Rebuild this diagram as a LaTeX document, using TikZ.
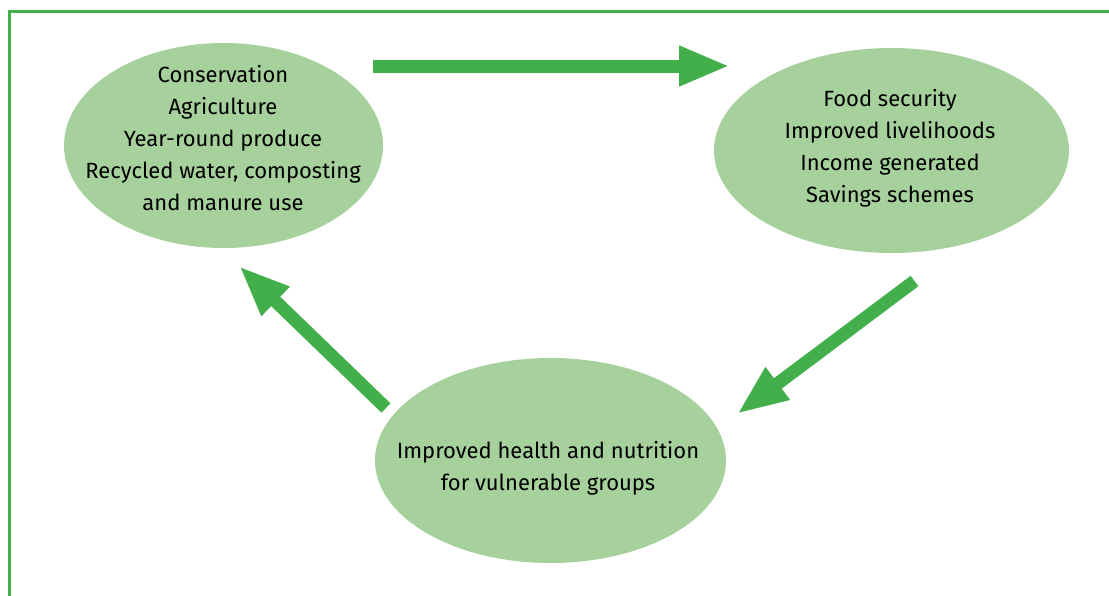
\documentclass[tikz,border=0pt]{standalone}
\usepackage{fontspec}
\setmainfont{Fira Sans}
\usetikzlibrary{shapes.geometric,arrows.meta}
\definecolor{leafgreen}{RGB}{67,175,74}
\definecolor{palegreen}{RGB}{166,208,156}

\begin{document}
\begin{tikzpicture}[
    x=1pt, y=-1pt,
    bubble/.style={ellipse, fill=palegreen, inner sep=0pt},
    bubbletext/.style={align=center, font=\fontsize{22}{32}\selectfont},
    flow/.style={leafgreen, line width=13pt, -{Triangle[length=51pt,width=37pt]}}
]
    \useasboundingbox (0,0) rectangle (1109,595);
    \clip (0,0) rectangle (1109,595);

    % Cadre
    \draw[leafgreen, line width=3pt] (9.5,11.5) rectangle (1130,620);

    % Ellipses
    \node[bubble, minimum width=319pt, minimum height=205pt] (conserv) at (223.5,145.5) {};
    \node[bubble, minimum width=355pt, minimum height=205pt] (food) at (891.5,150.5) {};
    \node[bubble, minimum width=351pt, minimum height=205pt] (health) at (550.5,460.5) {};

    % Textes
    \node[bubbletext] (conservtext) at (223,138) {Conservation\\Agriculture\\Year-round produce\\Recycled water, composting\\and manure use};
    \node[bubbletext] (foodtext) at (890,148) {Food security\\Improved livelihoods\\Income generated\\Savings schemes};
    \node[bubbletext] (healthtext) at (548,468) {Improved health and nutrition\\for vulnerable groups};

    % Flèches du cycle
    \coordinate (topstart) at (373,66);
    \coordinate (topend) at (730,66);
    \coordinate (rightstart) at (914.5,281);
    \coordinate (rightend) at (737,414);
    \coordinate (leftstart) at (386,408);
    \coordinate (leftend) at (239,266);
    \draw[flow] (topstart) -- (topend);
    \draw[flow] (rightstart) -- (rightend);
    \draw[flow] (leftstart) -- (leftend);

\end{tikzpicture}
\end{document}
